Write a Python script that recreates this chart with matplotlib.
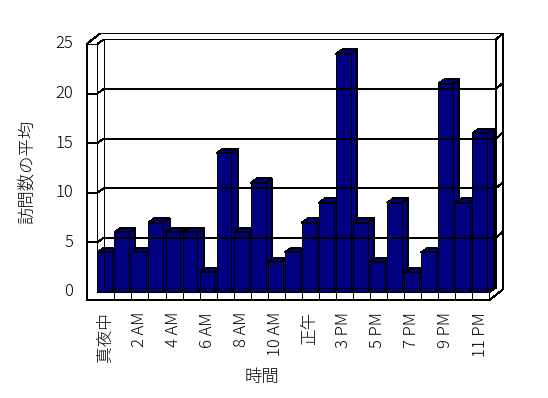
import matplotlib
matplotlib.use("Agg")
import matplotlib.pyplot as plt
from matplotlib.patches import Polygon

plt.rcParams['font.family'] = ['Noto Sans CJK JP', 'DejaVu Sans']

categories = ['真夜中', '1 AM', '2 AM', '3 AM', '4 AM', '5 AM', '6 AM', '7 AM', '8 AM',
              '9 AM', '10 AM', '11 AM', '正午', '2 PM', '3 PM', '4 PM', '5 PM', '6 PM',
              '7 PM', '8 PM', '9 PM', '10 PM', '11 PM']
values = [4, 6, 4, 7, 6, 6, 2, 14, 6, 11, 3, 4, 7, 9, 24, 7, 3, 9, 2, 4, 21, 9, 16]
yticks = [0, 5, 10, 15, 20, 25]
ylabel = '訪問数の平均'
xlabel = '時間'

N = len(categories)
VMAX = 25
NAVY = '#000080'
LW = 0.7

fig = plt.figure(figsize=(5.48, 3.98), dpi=100)
ax = fig.add_axes([0, 0, 1, 1])
# pixel scales: 17.05 px per category, 9.92 px per unit value
px_u, px_v = 17.05, 9.92
ax.set_xlim(-97.3 / px_u, (548 - 97.3) / px_u)
ax.set_ylim((292 - 398) / px_v, 292 / px_v)
ax.axis('off')

d1 = (6.3 / px_u, 4.5 / px_v)      # depth of floor / bars
d2 = (13.3 / px_u, 10.5 / px_v)    # outer edge of walls
uL = -10.6 / px_u                  # outer left of side wall
vB = -8.0 / px_v                   # bottom of floor slab


def P(u, v, d=None):
    if d is None:
        return (u, v)
    return (u + d[0], v + d[1])


def line(pts, **kw):
    xs = [p[0] for p in pts]
    ys = [p[1] for p in pts]
    ax.plot(xs, ys, color='black', lw=LW, solid_capstyle='butt', clip_on=False,
            antialiased=False, **kw)


def poly(pts, fc):
    ax.add_patch(Polygon(pts, closed=True, facecolor=fc, edgecolor='black', lw=LW,
                         clip_on=False, antialiased=False))


# outer silhouette (white)
sil = [P(uL, vB), P(uL, VMAX), P(uL, VMAX, d2), P(N, VMAX, d2), P(N, vB, d2), P(N, vB)]
poly(sil, 'white')

# side wall front face and back wall inner face
line([P(0, 0), P(0, VMAX), P(uL, VMAX)])
line([P(0, VMAX), P(0, VMAX, d1), P(N, VMAX, d1), P(N, 0, d1)])
line([P(N, VMAX, d1), P(N, VMAX, d2)])
line([P(0, 0, d1), P(0, VMAX, d1)])
line([P(0, 0, d1), P(N, 0, d1)])
line([P(N, 0), P(N, 0, d1)])
line([P(0, 0), P(N, 0)])
line([P(N, vB), P(N, 0)])

# gridlines
for v in yticks[1:-1]:
    line([P(uL, v), P(0, v), P(0, v, d1), P(N, v, d1), P(N, v, d2)])

# floor ticks
for i in range(1, N):
    line([P(i, 0), P(i, vB)])

# bars
bw = 0.87
for i, h in enumerate(values):
    x0, x1 = i, i + bw
    poly([P(x1, 0), P(x1, h), P(x1, h, d1), P(x1, 0, d1)], NAVY)
    poly([P(x0, h), P(x1, h), P(x1, h, d1), P(x0, h, d1)], NAVY)
    poly([P(x0, 0), P(x1, 0), P(x1, h), P(x0, h)], NAVY)

# y tick labels
for v in yticks:
    ax.text(uL - 13.5 / px_u, v, str(v), ha='right', va='center', fontsize=12,
            fontweight='light')

# x tick labels
for i in range(0, N, 2):
    ax.text(i + 0.45, -20 / px_v, categories[i], rotation=90, ha='center', va='top',
            fontsize=12, fontweight='light')

ax.text(-69.3 / px_u, 120 / px_v, ylabel, rotation=90, ha='center', va='center',
        fontsize=12.5, fontweight='light')
ax.text(164.7 / px_u, -85 / px_v, xlabel, ha='center', va='center', fontsize=12.5,
        fontweight='light')

fig.savefig('out.png', dpi=100)
